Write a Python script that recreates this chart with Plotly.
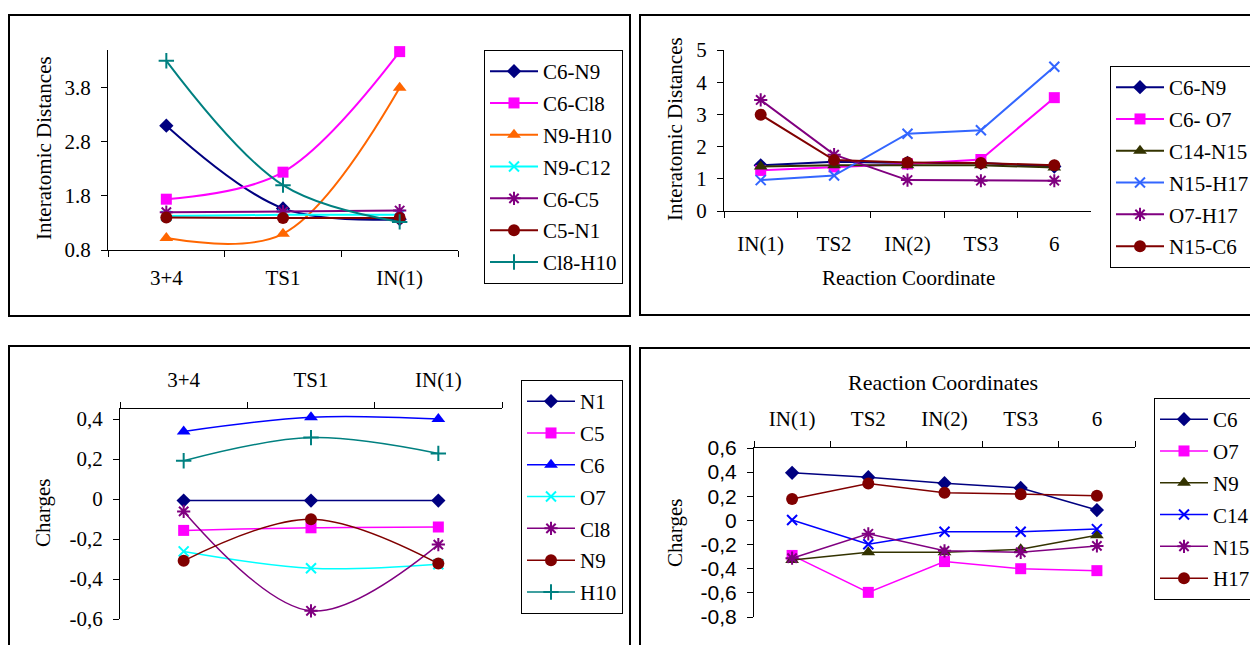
import plotly.graph_objects as go

W, H = 1250, 645
SERIF = "Liberation Serif, Times New Roman, serif"
SANS = "Liberation Sans, Arial, sans-serif"

# ---------------- Panel A (top-left): interatomic distances ----------------
cats_a = ["3+4", "TS1", "IN(1)"]
a_names = ["C6-N9", "C6-Cl8", "N9-H10", "N9-C12", "C6-C5", "C5-N1", "Cl8-H10"]
a_c6_n9 = [3.10, 1.57, 1.37]
a_c6_cl8 = [1.74, 2.24, 4.47]
a_n9_h10 = [1.02, 1.10, 3.80]
a_n9_c12 = [1.43, 1.45, 1.45]
a_c6_c5 = [1.50, 1.51, 1.53]
a_c5_n1 = [1.40, 1.39, 1.39]
a_cl8_h10 = [4.30, 2.00, 1.32]
a_ytick_vals = [0.8, 1.8, 2.8, 3.8]
a_ytick_text = ["0.8", "1.8", "2.8", "3.8"]

# ---------------- Panel B (top-right): interatomic distances ----------------
cats_b = ["IN(1)", "TS2", "IN(2)", "TS3", "6"]
b_names = ["C6-N9", "C6- O7", "C14-N15", "N15-H17", "O7-H17", "N15-C6"]
b_c6_n9 = [1.42, 1.53, 1.49, 1.49, 1.38]
b_c6_o7 = [1.26, 1.37, 1.46, 1.60, 3.52]
b_c14_n15 = [1.38, 1.42, 1.42, 1.42, 1.35]
b_n15_h17 = [0.96, 1.10, 2.40, 2.51, 4.48]
b_o7_h17 = [3.45, 1.75, 0.96, 0.94, 0.94]
b_n15_c6 = [2.99, 1.58, 1.51, 1.49, 1.42]
b_ytick_vals = [0, 1, 2, 3, 4, 5]
b_ytick_text = ["0", "1", "2", "3", "4", "5"]

# ---------------- Panel C (bottom-left): charges ----------------
cats_c = ["3+4", "TS1", "IN(1)"]
c_names = ["N1", "C5", "C6", "O7", "Cl8", "N9", "H10"]
c_n1 = [-0.008, -0.008, -0.008]
c_c5 = [-0.157, -0.144, -0.140]
c_c6 = [0.338, 0.409, 0.400]
c_o7 = [-0.262, -0.346, -0.326]
c_cl8 = [-0.062, -0.559, -0.228]
c_n9 = [-0.309, -0.101, -0.323]
c_h10 = [0.191, 0.307, 0.228]
c_ytick_vals = [0.4, 0.2, 0, -0.2, -0.4, -0.6]
c_ytick_text = ["0,4", "0,2", "0", "-0,2", "-0,4", "-0,6"]

# ---------------- Panel D (bottom-right): charges ----------------
cats_d = ["IN(1)", "TS2", "IN(2)", "TS3", "6"]
d_names = ["C6", "O7", "N9", "C14", "N15", "H17"]
d_c6 = [0.394, 0.358, 0.308, 0.269, 0.086]
d_o7 = [-0.290, -0.596, -0.341, -0.400, -0.416]
d_n9 = [-0.327, -0.264, -0.264, -0.239, -0.122]
d_c14 = [0.003, -0.197, -0.094, -0.094, -0.072]
d_n15 = [-0.313, -0.111, -0.252, -0.264, -0.211]
d_h17 = [0.178, 0.305, 0.230, 0.216, 0.205]
d_ytick_vals = [0.6, 0.4, 0.2, 0, -0.2, -0.4, -0.6, -0.8]
d_ytick_text = ["0,6", "0,4", "0,2", "0", "-0,2", "-0,4", "-0,6", "-0,8"]

NAVY, MAG, ORANGE, CYAN, PURPLE, MAROON, TEAL = (
    "#000080", "#FF00FF", "#FF6600", "#00FFFF", "#800080", "#800000", "#008080")
OLIVE, SKY, BLUE = "#333300", "#3366FF", "#0000FF"

SYM = {
    "diamond": ("diamond", 11),
    "square": ("square", 11),
    "triangle": ("triangle-up", 12),
    "x": ("x-thin-open", 10),
    "star": ("asterisk-open", 11),
    "circle": ("circle", 12),
    "plus": ("cross-thin-open", 11),
}

fig = go.Figure()


def add(cats, vals, name, color, sym, ax, leg, shape, lw):
    symbol, size = SYM[sym]
    thin = symbol.endswith("-open")
    marker = dict(symbol=symbol, size=size, color=color,
                  line=dict(color=color, width=2 if thin else 0))
    fig.add_trace(go.Scatter(
        x=cats, y=vals, name=name, mode="lines+markers",
        line=dict(color=color, width=lw, shape=shape, smoothing=1.0),
        marker=marker, xaxis="x" + ax, yaxis="y" + ax,
        legend=leg, legendgroup=leg + name, cliponaxis=False))


a_series = [a_c6_n9, a_c6_cl8, a_n9_h10, a_n9_c12, a_c6_c5, a_c5_n1, a_cl8_h10]
a_style = [(NAVY, "diamond"), (MAG, "square"), (ORANGE, "triangle"), (CYAN, "x"),
           (PURPLE, "star"), (MAROON, "circle"), (TEAL, "plus")]
for n, v, (c, s) in zip(a_names, a_series, a_style):
    add(cats_a, v, n, c, s, "", "legend", "spline", 2)

b_series = [b_c6_n9, b_c6_o7, b_c14_n15, b_n15_h17, b_o7_h17, b_n15_c6]
b_style = [(NAVY, "diamond"), (MAG, "square"), (OLIVE, "triangle"), (SKY, "x"),
           (PURPLE, "star"), (MAROON, "circle")]
for n, v, (c, s) in zip(b_names, b_series, b_style):
    add(cats_b, v, n, c, s, "2", "legend2", "linear", 2)

c_series = [c_n1, c_c5, c_c6, c_o7, c_cl8, c_n9, c_h10]
c_style = [(NAVY, "diamond"), (MAG, "square"), (BLUE, "triangle"), (CYAN, "x"),
           (PURPLE, "star"), (MAROON, "circle"), (TEAL, "plus")]
for n, v, (c, s) in zip(c_names, c_series, c_style):
    add(cats_c, v, n, c, s, "3", "legend3", "spline", 1.5)

d_series = [d_c6, d_o7, d_n9, d_c14, d_n15, d_h17]
d_style = [(NAVY, "diamond"), (MAG, "square"), (OLIVE, "triangle"), (BLUE, "x"),
           (PURPLE, "star"), (MAROON, "circle")]
for n, v, (c, s) in zip(d_names, d_series, d_style):
    add(cats_d, v, n, c, s, "4", "legend4", "linear", 1.5)


def px(x):
    return x / W


def py(y):
    return 1 - y / H


def xax(x0, x1, anchor, ncat, side="bottom", standoff=8):
    return dict(domain=[px(x0), px(x1)], anchor=anchor, type="category",
                range=[-0.5, ncat - 0.5],
                side=side, tickson="boundaries", ticks="outside", ticklen=6,
                tickcolor="black", showline=True, linecolor="black", linewidth=1,
                showgrid=False, zeroline=False, ticklabelstandoff=standoff,
                tickfont=dict(family=SERIF, size=21, color="black"), fixedrange=True)


def yax(y_top, y_bot, anchor, rng, vals, text, font=SERIF, size=21):
    return dict(domain=[py(y_bot), py(y_top)], anchor=anchor, range=rng,
                tickvals=vals, ticktext=text, ticks="outside", ticklen=6,
                tickcolor="black", showline=True, linecolor="black", linewidth=1,
                showgrid=False, zeroline=False, ticklabelstandoff=6,
                tickfont=dict(family=font, size=size, color="black"), fixedrange=True)


def legend(x, y):
    return dict(x=px(x), y=py(y), xanchor="left", yanchor="top",
                bgcolor="white", bordercolor="black", borderwidth=1,
                font=dict(family=SERIF, size=21, color="black"),
                tracegroupgap=1.5, itemwidth=48, itemclick=False,
                itemdoubleclick=False)


def ann(text, x, y, angle=0, size=21):
    return dict(text=text, x=px(x), y=py(y), xref="paper", yref="paper",
                showarrow=False, xanchor="center", yanchor="middle",
                textangle=angle, font=dict(family=SERIF, size=size, color="black"))


def frame(x0, y0, x1, y1):
    return dict(type="rect", xref="paper", yref="paper",
                x0=px(x0), x1=px(x1), y0=py(y1), y1=py(y0),
                line=dict(color="black", width=2), fillcolor="rgba(0,0,0,0)",
                layer="below")


fig.update_layout(
    width=W, height=H,
    margin=dict(l=0, r=0, t=0, b=0, autoexpand=False),
    paper_bgcolor="white", plot_bgcolor="rgba(0,0,0,0)",
    showlegend=True,
    xaxis=xax(108, 458, "y", 3, standoff=9),
    yaxis=yax(50, 250, "x", [0.8, 4.5], a_ytick_vals, a_ytick_text),
    xaxis2=xax(724, 1091, "y2", 5, standoff=14),
    yaxis2=yax(50, 211, "x2", [0, 5], b_ytick_vals, b_ytick_text),
    xaxis3=xax(120, 502, "y3", 3, side="top", standoff=13),
    yaxis3=yax(409, 619, "x3", [-0.6, 0.45], c_ytick_vals, c_ytick_text),
    xaxis4=xax(754, 1135, "y4", 5, side="top", standoff=13),
    yaxis4=yax(448, 617, "x4", [-0.8, 0.6], d_ytick_vals, d_ytick_text,
               font=SANS, size=21),
    legend=legend(484, 50),
    legend2=legend(1110, 66),
    legend3=legend(521, 380),
    legend4=legend(1154, 398),
    annotations=[
        ann("Interatomic Distances", 44, 148, -90),
        ann("Interatomic Distances", 675, 129, -90),
        ann("Reaction Coordinate", 908, 278),
        ann("Charges", 43, 513, -90),
        ann("Charges", 675, 533, -90),
        ann("Reaction Coordinates", 943, 382, size=22),
    ],
    shapes=[
        frame(9, 15, 630, 316),
        frame(640, 15, 1262, 315),
        frame(9, 346, 630, 660),
        frame(640, 348, 1262, 660),
    ],
)

# Remove the browser's default page margin so the figure fills the window.
fig.write_html("out.html",
               config={"displayModeBar": False},
               post_script="document.body.style.margin='0';"
                           "document.body.style.overflow='hidden';")
